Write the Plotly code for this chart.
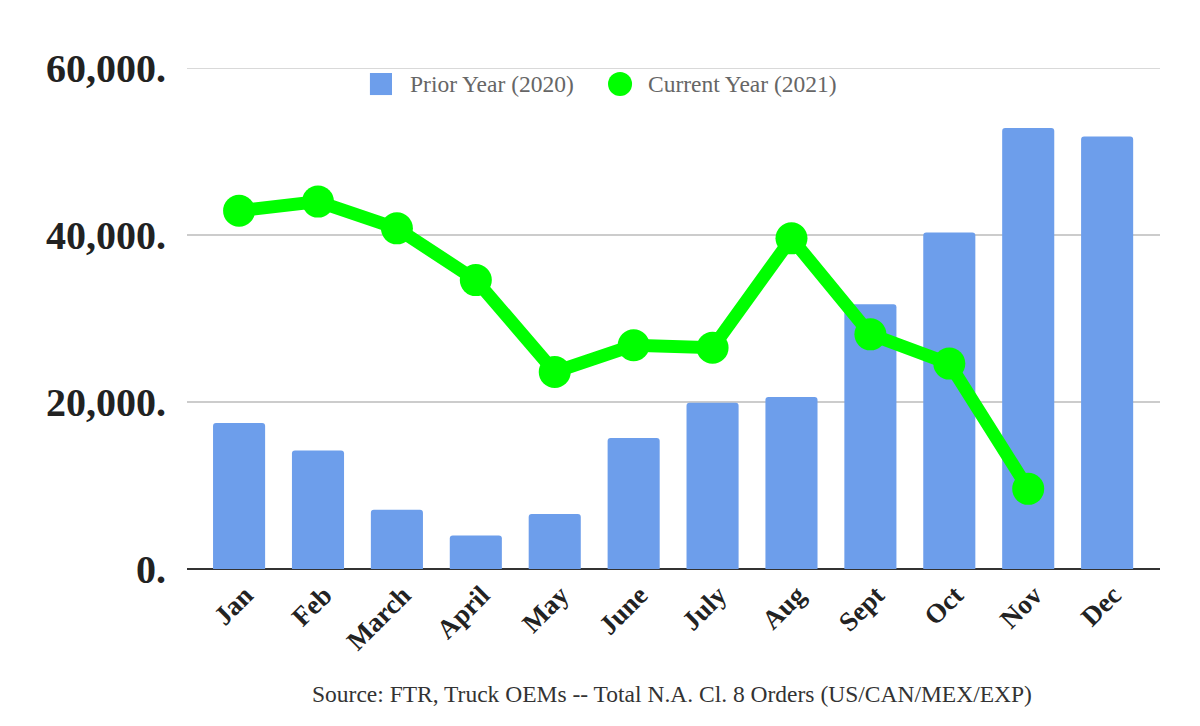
import plotly.graph_objects as go

months = ["Jan", "Feb", "March", "April", "May", "June", "July", "Aug", "Sept", "Oct", "Nov", "Dec"]
prior_2020 = [17500, 14200, 7100, 4000, 6600, 15700, 19900, 20600, 31700, 40300, 52800, 51800]
current_2021 = [42900, 44000, 40800, 34600, 23600, 26800, 26500, 39600, 28100, 24600, 9600]
y_ticks = [0, 20000, 40000, 60000]
y_tick_labels = ["0.", "20,000.", "40,000.", "60,000."]
legend_labels = ["Prior Year (2020)", "Current Year (2021)"]
source_text = "Source: FTR, Truck OEMs -- Total N.A. Cl. 8 Orders (US/CAN/MEX/EXP)"

BLUE = "#6d9eeb"
GREEN = "#00ff00"
SERIF = "Liberation Serif, Times New Roman, serif"

fig = go.Figure()
fig.add_trace(go.Bar(
    x=months, y=prior_2020, name=legend_labels[0],
    marker=dict(color=BLUE, cornerradius=3, line=dict(width=0)),
    width=0.66,
))
fig.add_trace(go.Scatter(
    x=months[:len(current_2021)], y=current_2021, name=legend_labels[1],
    mode="lines+markers",
    line=dict(color=GREEN, width=13),
    marker=dict(color=GREEN, size=32),
))

shapes = [
    # top gridline at 60,000
    dict(type="line", xref="paper", yref="y", x0=0, x1=1, y0=y_ticks[-1], y1=y_ticks[-1],
         line=dict(color="#cccccc", width=1.5), layer="below"),
    # legend symbols
    dict(type="rect", xref="paper", yref="paper", x0=0.188, x1=0.2107, y0=0.946, y1=0.990,
         fillcolor=BLUE, line=dict(width=0)),
    dict(type="circle", xref="paper", yref="paper", x0=0.4327, x1=0.4574, y0=0.944, y1=0.992,
         fillcolor=GREEN, line=dict(width=0)),
]
annotations = [
    dict(text=legend_labels[0], xref="paper", yref="paper", x=0.2271, y=0.968,
         xanchor="left", yanchor="middle", showarrow=False,
         font=dict(family=SERIF, size=23.5, color="#666666")),
    dict(text=legend_labels[1], xref="paper", yref="paper", x=0.4717, y=0.968,
         xanchor="left", yanchor="middle", showarrow=False,
         font=dict(family=SERIF, size=23.5, color="#666666")),
    dict(text=source_text, xref="paper", yref="paper",
         x=0.4985, y=-0.2495, xanchor="center", yanchor="middle",
         showarrow=False, font=dict(family=SERIF, size=23.5, color="#333333")),
]

fig.update_layout(
    width=1192, height=710,
    margin=dict(l=179, r=40, t=60, b=149, autoexpand=False),
    plot_bgcolor="white", paper_bgcolor="white",
    showlegend=False,
    xaxis=dict(
        range=[-0.66, 11.67],
        tickangle=-45,
        tickfont=dict(family=SERIF, size=27, color="#222222", weight="bold"),
        showgrid=False, ticks="", showline=False,
        ticklabelshift=6, ticklabelstandoff=4,
    ),
    yaxis=dict(
        range=[0, 60000],
        tickvals=y_ticks, ticktext=y_tick_labels,
        tickfont=dict(family=SERIF, size=40, color="#222222", weight="bold"),
        showgrid=True, gridcolor="#cccccc", gridwidth=1.5,
        zeroline=True, zerolinecolor="#333333", zerolinewidth=2,
        ticks="", ticklabelstandoff=20,
    ),
    bargap=0.34,
    shapes=shapes,
    annotations=annotations,
)

fig.write_html("out.html")
